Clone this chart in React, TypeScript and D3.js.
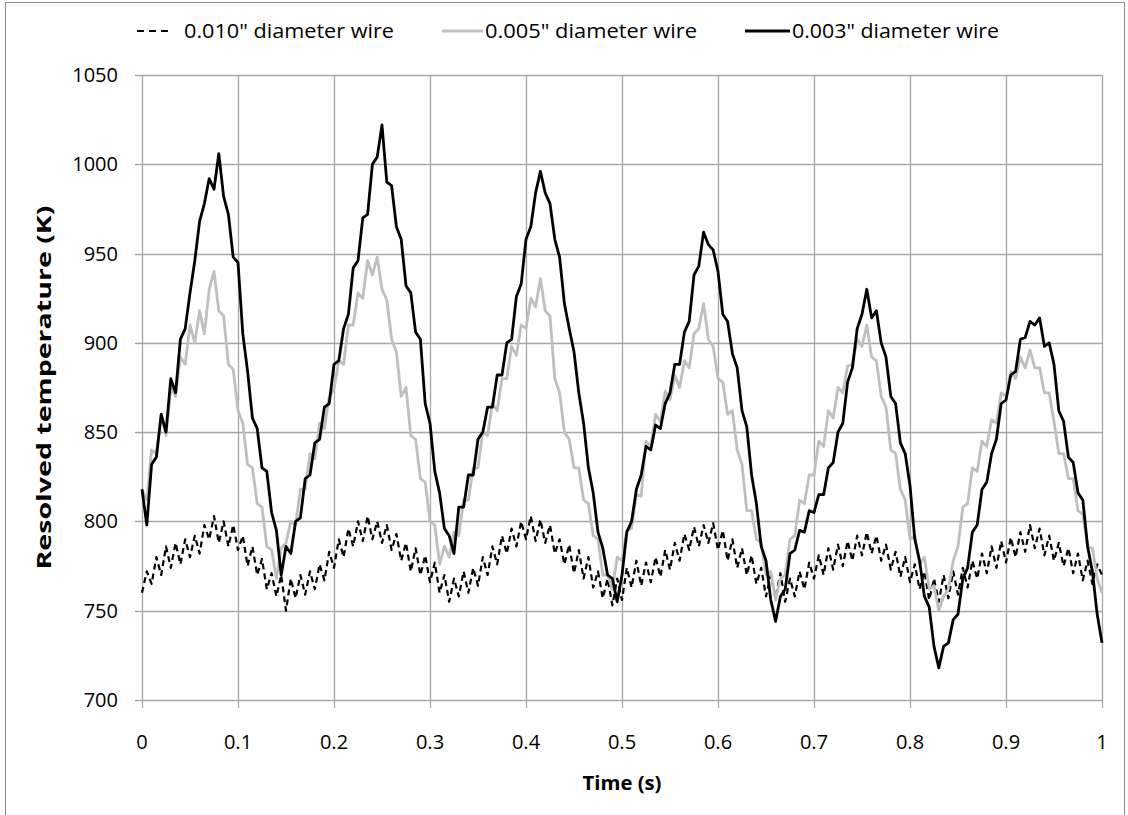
import React from "react";
import * as d3 from "d3";

// Sampling: one reading every 0.005 s from 0 to 1 s
const TIME_STEP = 0.005;

// 0.010" diameter wire (dashed)
const wire010: number[] = [
  760, 772, 765, 780, 770, 786, 774, 788, 776, 790,
  780, 792, 782, 798, 790, 803, 788, 800, 786, 798,
  784, 792, 775, 786, 770, 779, 762, 771, 758, 770,
  750, 768, 757, 770, 759, 772, 762, 776, 767, 783,
  774, 790, 780, 796, 786, 800, 789, 803, 790, 800,
  788, 798, 784, 793, 778, 788, 772, 785, 770, 781,
  766, 777, 760, 770, 755, 768, 758, 772, 760, 774,
  764, 780, 770, 786, 776, 792, 782, 796, 786, 800,
  790, 803, 789, 801, 788, 798, 782, 790, 776, 787,
  771, 784, 768, 780, 763, 772, 757, 768, 753, 768,
  756, 774, 763, 778, 764, 777, 766, 780, 769, 784,
  773, 788, 778, 793, 784, 797, 786, 798, 788, 799,
  784, 795, 778, 790, 774, 785, 770, 781, 765, 774,
  758, 770, 757, 771, 755, 768, 758, 772, 762, 777,
  768, 781, 770, 785, 773, 787, 775, 789, 778, 792,
  781, 794, 782, 792, 778, 787, 773, 783, 769, 780,
  766, 776, 762, 772, 756, 768, 755, 770, 757, 772,
  759, 774, 763, 778, 768, 782, 771, 786, 774, 789,
  777, 791, 780, 794, 783, 798, 785, 796, 781, 792,
  778, 788, 775, 785, 771, 782, 767, 778, 765, 776,
  770,
];

// 0.005" diameter wire (grey)
const wire005: number[] = [
  818, 812, 840, 838, 860, 848, 875, 870, 892, 888,
  910, 900, 918, 905, 930, 940, 918, 915, 888, 885,
  862, 855, 832, 830, 810, 808, 786, 784, 768, 785,
  788, 800, 798, 818, 818, 838, 835, 855, 852, 870,
  874, 890, 888, 910, 910, 928, 925, 946, 938, 948,
  930, 924, 902, 895, 870, 875, 848, 846, 824, 822,
  800, 798, 776, 786, 780, 794, 792, 812, 812, 830,
  830, 850, 848, 866, 862, 880, 880, 898, 893, 910,
  908, 925, 920, 936, 918, 915, 880, 872, 850, 846,
  830, 830, 812, 810, 792, 790, 770, 770, 762, 780,
  778, 795, 796, 815, 814, 845, 842, 860, 856, 873,
  868, 882, 875, 890, 886, 905, 908, 922, 902, 898,
  880, 878, 860, 862, 840, 832, 806, 806, 790, 788,
  770, 772, 756, 768, 770, 790, 792, 812, 810, 826,
  826, 845, 842, 862, 858, 875, 872, 887, 888, 902,
  898, 910, 892, 890, 870, 864, 840, 838, 818, 812,
  790, 792, 776, 780, 762, 764, 750, 758, 762, 778,
  786, 808, 810, 830, 828, 845, 842, 857, 855, 872,
  870, 884, 880, 892, 886, 896, 886, 886, 872, 872,
  856, 838, 838, 824, 824, 806, 804, 786, 785, 768,
  760,
];

// 0.003" diameter wire (black)
const wire003: number[] = [
  818, 798, 832, 836, 860, 850, 880, 872, 902, 908,
  928, 946, 968, 978, 992, 986, 1006, 982, 972, 948,
  945, 905, 884, 858, 852, 830, 828, 805, 795, 770,
  786, 782, 800, 802, 824, 826, 844, 846, 864, 866,
  888, 890, 908, 916, 942, 946, 970, 972, 1000, 1004,
  1022, 990, 988, 965, 958, 932, 928, 906, 902, 866,
  855, 828, 816, 796, 792, 782, 808, 808, 826, 826,
  846, 850, 864, 864, 882, 882, 900, 902, 926, 933,
  958, 965, 984, 996, 984, 978, 958, 948, 922, 908,
  895, 872, 855, 830, 816, 794, 785, 770, 768, 755,
  770, 794, 800, 818, 826, 842, 840, 854, 852, 866,
  872, 888, 888, 906, 912, 938, 943, 962, 955, 952,
  940, 916, 912, 894, 886, 862, 853, 826, 810, 786,
  778, 756, 744, 758, 762, 782, 784, 795, 794, 806,
  805, 815, 815, 830, 833, 850, 855, 878, 886, 908,
  916, 930, 914, 918, 900, 892, 870, 866, 844, 838,
  820, 790, 778, 758, 752, 730, 718, 730, 732, 745,
  748, 768, 774, 794, 798, 818, 822, 838, 846, 866,
  868, 882, 884, 902, 903, 912, 910, 914, 898, 900,
  888, 862, 856, 836, 833, 816, 812, 786, 772, 748,
  732,
];

const xTicks = [0, 0.1, 0.2, 0.3, 0.4, 0.5, 0.6, 0.7, 0.8, 0.9, 1];
const yTicks = [700, 750, 800, 850, 900, 950, 1000, 1050];
const seriesNames = [
  '0.010" diameter wire',
  '0.005" diameter wire',
  '0.003" diameter wire',
];

const W = 1128;
const H = 815;
const M = { left: 142, right: 1102, top: 75, bottom: 700 };
const FONT = "'Open Sans', 'Liberation Sans', sans-serif";
const GRID = "#a6a6a6";

export default function App() {
  const x = d3.scaleLinear().domain([0, 1]).range([M.left, M.right]);
  const y = d3.scaleLinear().domain([700, 1050]).range([M.bottom, M.top]);
  const line = d3
    .line<number>()
    .x((_, i) => x(i * TIME_STEP))
    .y((d) => y(d));

  const series = [
    { name: seriesNames[0], data: wire010, color: "#000000", width: 2.2, dash: "6,4" },
    { name: seriesNames[1], data: wire005, color: "#bfbfbf", width: 2.8, dash: undefined },
    { name: seriesNames[2], data: wire003, color: "#000000", width: 2.8, dash: undefined },
  ];

  const legendItems = [
    { x1: 137, x2: 170, tx: 184, len: 210 },
    { x1: 442, x2: 483, tx: 485, len: 212 },
    { x1: 745, x2: 790, tx: 792, len: 207 },
  ];

  return (
    <svg
      width={W}
      height={H}
      style={{ position: "absolute", left: 0, top: 0, background: "#fff" }}
      fontFamily={FONT}
    >
      <rect x={0} y={0} width={W} height={H} fill="#fff" />
      <rect x={5.5} y={2.5} width={1119} height={H + 10} fill="none" stroke="#8c8c8c" strokeWidth={1} />

      {/* grid */}
      {yTicks.map((t) => (
        <line key={"gy" + t} x1={M.left - 7} x2={M.right} y1={Math.round(y(t)) + 0.5} y2={Math.round(y(t)) + 0.5} stroke={GRID} strokeWidth={1.3} />
      ))}
      {xTicks.map((t) => (
        <line key={"gx" + t} x1={Math.round(x(t)) + 0.5} x2={Math.round(x(t)) + 0.5} y1={M.top} y2={M.bottom + 8} stroke={GRID} strokeWidth={1.3} />
      ))}

      {/* tick labels */}
      {yTicks.map((t) => (
        <text key={"ty" + t} x={118} y={y(t)} dy="0.35em" textAnchor="end" fontSize={20} fill="#000">
          {t}
        </text>
      ))}
      {xTicks.map((t) => (
        <text key={"tx" + t} x={x(t)} y={742} dy="0.35em" textAnchor="middle" fontSize={20} fill="#000">
          {String(t)}
        </text>
      ))}

      {/* axis titles */}
      <text x={622} y={783} dy="0.35em" textAnchor="middle" fontSize={20} fontWeight="bold" textLength={79} lengthAdjust="spacingAndGlyphs">
        Time (s)
      </text>
      <text
        transform={`translate(44, ${(M.top + M.bottom) / 2}) rotate(-90)`}
        dy="0.35em"
        textAnchor="middle"
        fontSize={20}
        fontWeight="bold"
        textLength={364}
        lengthAdjust="spacingAndGlyphs"
      >
        Resolved temperature (K)
      </text>

      {/* series */}
      {series.map((s) => (
        <path
          key={s.name}
          d={line(s.data) || ""}
          fill="none"
          stroke={s.color}
          strokeWidth={s.width}
          strokeDasharray={s.dash}
          strokeLinejoin="round"
        />
      ))}

      {/* legend */}
      {series.map((s, i) => (
        <g key={"lg" + i}>
          <line
            x1={legendItems[i].x1}
            x2={legendItems[i].x2}
            y1={31}
            y2={31}
            stroke={s.color}
            strokeWidth={s.width}
            strokeDasharray={s.dash ? "7,5" : undefined}
          />
          <text
            x={legendItems[i].tx}
            y={31}
            dy="0.35em"
            fontSize={20}
            textLength={legendItems[i].len}
            lengthAdjust="spacingAndGlyphs"
          >
            {s.name}
          </text>
        </g>
      ))}
    </svg>
  );
}
